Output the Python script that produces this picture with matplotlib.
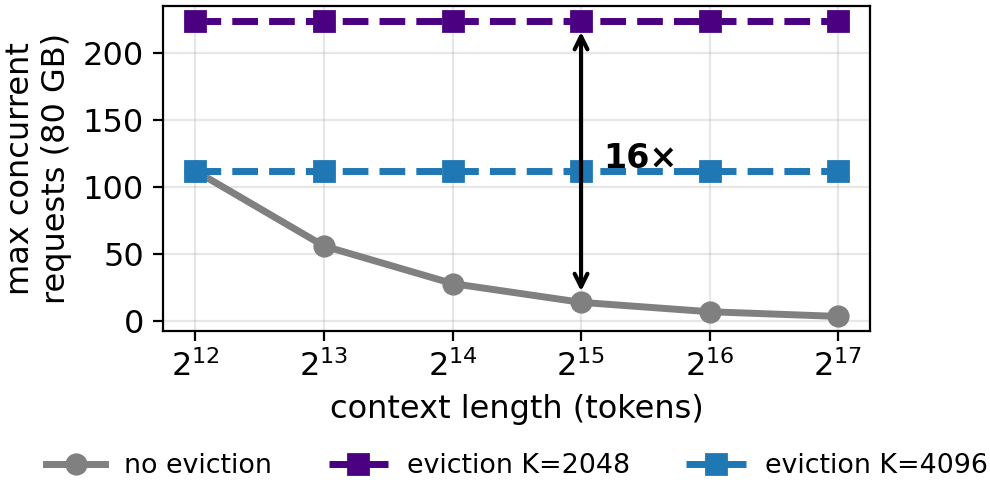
import matplotlib
matplotlib.use('Agg')
import matplotlib.pyplot as plt

# context lengths (tokens) and max concurrent requests on an 80 GB GPU
context_len = [2**12, 2**13, 2**14, 2**15, 2**16, 2**17]
no_evict = [112, 56, 28, 14, 7, 3.5]
evict_2048 = [224, 224, 224, 224, 224, 224]
evict_4096 = [112, 112, 112, 112, 112, 112]
y_ticks = [0, 50, 100, 150, 200]

arrow_x = 2**15
ratio_label = "16×"

plt.rcParams['font.size'] = 11.5

fig = plt.figure(figsize=(4.95, 2.4), dpi=200)
ax = fig.add_axes([0.165, 0.31, 0.714, 0.6775])

ax.plot(context_len, no_evict, color='gray', marker='o', lw=2.5, ms=7,
        label='no eviction')
ax.plot(context_len, evict_2048, color='#4B0082', marker='s', ls='--', lw=2.5,
        ms=7, label='eviction K=2048')
ax.plot(context_len, evict_4096, color='#1f77b4', marker='s', ls='--', lw=2.5,
        ms=7, label='eviction K=4096')

ax.set_xscale('log', base=2)
ax.set_xticks(context_len)
ax.set_yticks(y_ticks)
ax.grid(True, alpha=0.3)

# gap between no-eviction and K=2048 at 32k tokens
ax.annotate('', xy=(arrow_x, evict_2048[3]), xytext=(arrow_x, no_evict[3]),
            arrowprops=dict(arrowstyle='<->', lw=1.5, color='black',
                            shrinkA=4, shrinkB=4))
ax.text(arrow_x * 1.13, 121, ratio_label, fontweight='bold', fontsize=12,
        va='center', ha='left')

ax.set_xlabel('context length (tokens)')
ax.set_ylabel('max concurrent\nrequests (80 GB)')

ax.legend(loc='upper center', bbox_to_anchor=(0.5, -0.30), ncol=3,
          frameon=False, fontsize=9.7, handlelength=2.2, handletextpad=0.7,
          columnspacing=2.1)

fig.savefig('out.png', dpi=200)
